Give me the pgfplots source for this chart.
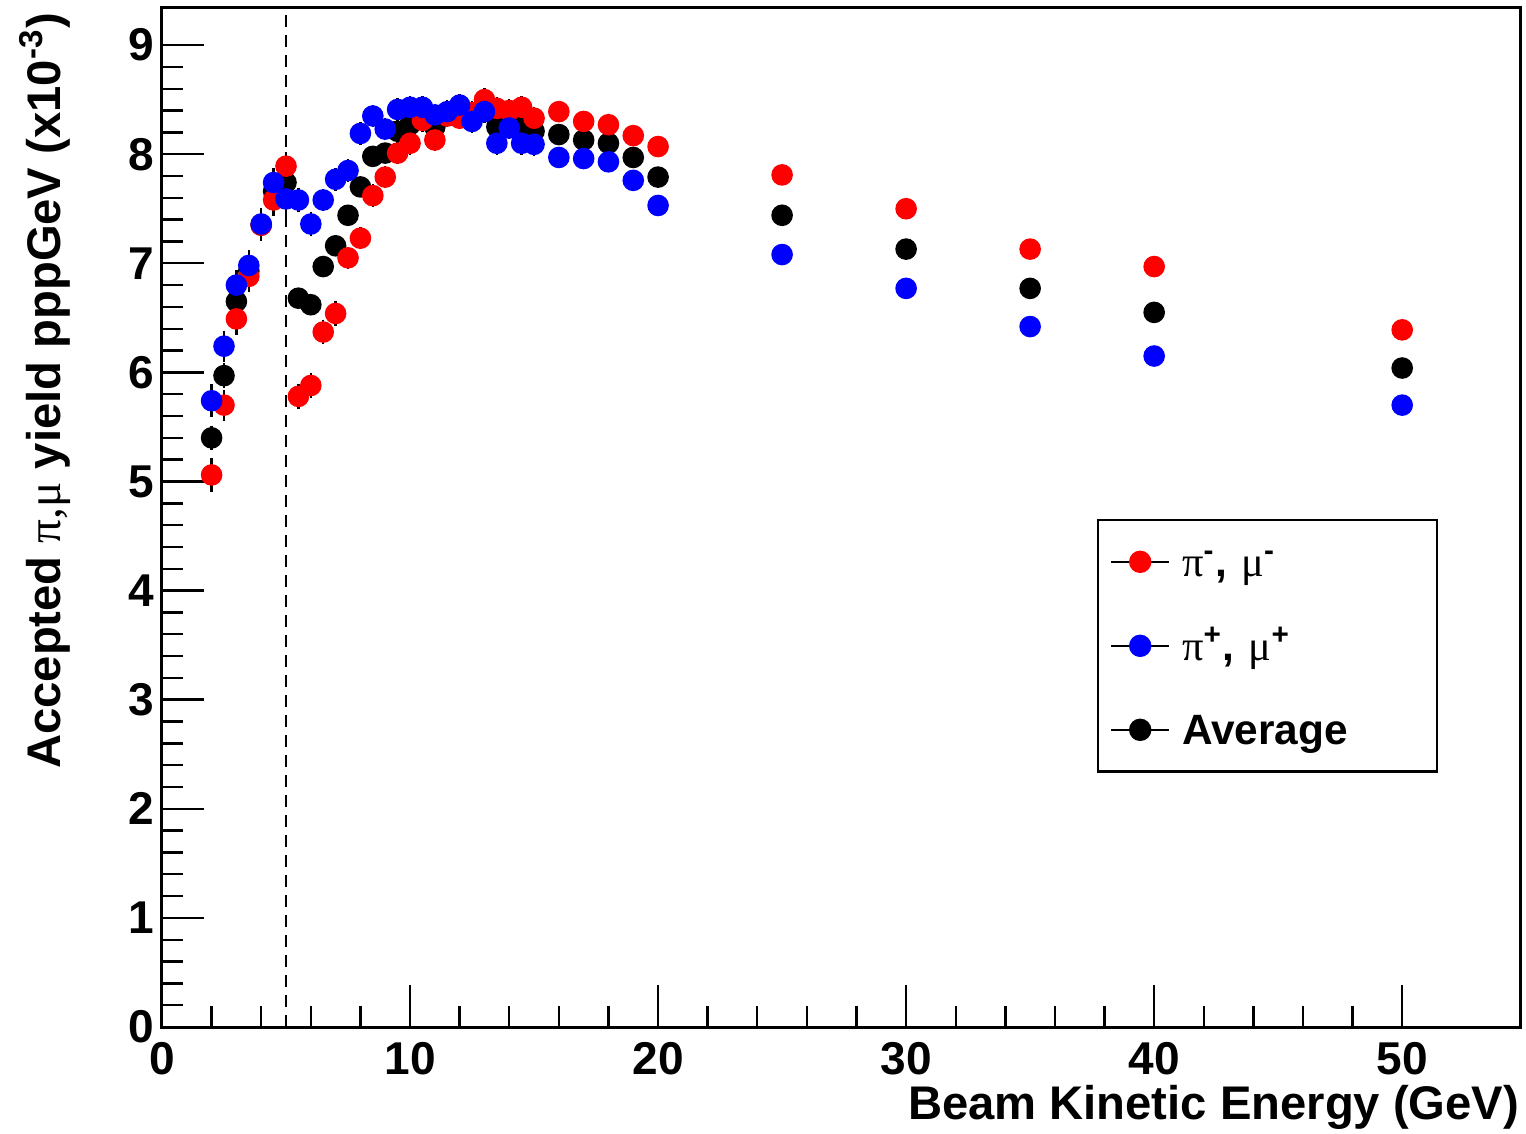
\documentclass[border=0pt]{standalone}
\usepackage{fontspec}
\setmainfont{Liberation Sans}
\newfontfamily\symb{Liberation Serif}
\usepackage{pgfplots}
\pgfplotsset{compat=1.18}

\newcommand{\tickfont}{\fontsize{11.5}{13}\selectfont\bfseries}
\newcommand{\titlefont}{\fontsize{11.8}{13}\selectfont\bfseries}
\newcommand{\legfont}{\fontsize{10.6}{12}\selectfont\bfseries}

\begin{document}
\begin{tikzpicture}
\begin{axis}[
  name=ax,
  scale only axis,
  width=339.5pt, height=254.75pt,
  xmin=0, xmax=54.75, ymin=0, ymax=9.34,
  xtick={0,10,...,50}, ytick={0,1,...,9},
  minor x tick num=4, minor y tick num=4,
  tick pos=left, tick align=inside,
  major tick length=10.5pt, minor tick length=5.25pt,
  every tick/.style={black, line width=0.6pt},
  axis line style={black, line width=0.75pt},
  /pgf/number format/assume math mode=true,
  tick label style={font=\tickfont},
  xticklabel style={anchor=north, inner sep=0pt, yshift=-3.75pt},
  yticklabel style={anchor=east, inner sep=0pt, xshift=-1.75pt},
  xlabel={Beam Kinetic Energy (GeV)},
  xlabel style={font=\titlefont, at={(axis description cs:1,-0.056)}, anchor=north east, inner sep=0pt},
  ylabel={Accepted {\mdseries\symb π,μ} yield pppGeV (x10\textsuperscript{-3})},
  ylabel style={font=\titlefont, at={(axis description cs:-0.0862,0.996)}, anchor=east, inner sep=0pt},
  legend cell align=left,
  legend style={at={(rel axis cs:0.6885,0.4985)}, anchor=north west,
    draw=black, line width=0.6pt, fill=white,
    inner xsep=0pt, inner ysep=5pt, row sep=10.2pt, column sep=0pt,
    font=\legfont,
    nodes={inner sep=0pt, text height=9pt, text depth=1.8pt, text width=63.75pt, align=left}},
  legend image code/.code={
    \path[draw=none, fill=none] (0pt,-5.4pt) rectangle (21pt,5.4pt);
    \draw[black, line width=0.5pt] (3.25pt,0pt) -- (17.75pt,0pt);
    \draw[#1] plot coordinates {(10.5pt,0pt)};
  },
  every axis plot/.append style={only marks, mark=*, mark size=2.5pt},
  err/.style={error bars/.cd, y dir=both, y explicit,
    error bar style={black, line width=0.6pt},
    error mark options={black, mark size=0.9pt, line width=0.6pt}},
]

% dashed line at 5 GeV
\addplot[black, dashed, dash pattern=on 3pt off 2pt, line width=0.6pt, mark=none, sharp plot, forget plot]
  coordinates {(5,0) (5,9.34)};

% average
\addplot[black, forget plot, err] coordinates {
(2,5.40) +- (0,0.08) (2.5,5.97) +- (0,0.08) (3,6.65) +- (0,0.08) (3.5,6.93) +- (0,0.08)
(4,7.35) +- (0,0.08) (4.5,7.66) +- (0,0.08) (5,7.74) +- (0,0.08) (5.5,6.68) +- (0,0.06)
(6,6.62) +- (0,0.06) (6.5,6.97) +- (0,0.06) (7,7.16) +- (0,0.06) (7.5,7.44) +- (0,0.05)
(8,7.70) +- (0,0.05) (8.5,7.98) +- (0,0.05) (9,8.01) +- (0,0.05) (9.5,8.21) +- (0,0.05)
(10,8.27) +- (0,0.05) (10.5,8.37) +- (0,0.05) (11,8.25) +- (0,0.05) (11.5,8.37) +- (0,0.05)
(12,8.39) +- (0,0.05) (12.5,8.34) +- (0,0.05) (13,8.43) +- (0,0.05) (13.5,8.25) +- (0,0.05)
(14,8.32) +- (0,0.05) (14.5,8.27) +- (0,0.05) (15,8.21) +- (0,0.05) (16,8.18) +- (0,0.04)
(17,8.13) +- (0,0.04) (18,8.10) +- (0,0.04) (19,7.97) +- (0,0.04) (20,7.79) +- (0,0.04)
(25,7.44) +- (0,0.04) (30,7.13) +- (0,0.04) (35,6.77) +- (0,0.04) (40,6.55) +- (0,0.04)
(50,6.04) +- (0,0.04)
};

% pi-, mu-
\addplot[red, err] coordinates {
(2,5.06) +- (0,0.12) (2.5,5.70) +- (0,0.11) (3,6.49) +- (0,0.11) (3.5,6.88) +- (0,0.11)
(4,7.35) +- (0,0.11) (4.5,7.58) +- (0,0.11) (5,7.89) +- (0,0.10) (5.5,5.78) +- (0,0.08)
(6,5.88) +- (0,0.08) (6.5,6.37) +- (0,0.08) (7,6.54) +- (0,0.08) (7.5,7.05) +- (0,0.07)
(8,7.23) +- (0,0.07) (8.5,7.62) +- (0,0.07) (9,7.79) +- (0,0.07) (9.5,8.01) +- (0,0.07)
(10,8.10) +- (0,0.07) (10.5,8.31) +- (0,0.07) (11,8.13) +- (0,0.07) (11.5,8.35) +- (0,0.07)
(12,8.33) +- (0,0.07) (12.5,8.38) +- (0,0.07) (13,8.50) +- (0,0.07) (13.5,8.42) +- (0,0.07)
(14,8.40) +- (0,0.07) (14.5,8.43) +- (0,0.07) (15,8.33) +- (0,0.07) (16,8.39) +- (0,0.06)
(17,8.30) +- (0,0.06) (18,8.27) +- (0,0.06) (19,8.17) +- (0,0.06) (20,8.07) +- (0,0.06)
(25,7.81) +- (0,0.05) (30,7.50) +- (0,0.05) (35,7.13) +- (0,0.05) (40,6.97) +- (0,0.05)
(50,6.39) +- (0,0.05)
};
\addlegendentry{{\mdseries\symb π}\textsuperscript{-}, {\mdseries\symb μ}\textsuperscript{-}}

% pi+, mu+
\addplot[blue, err] coordinates {
(2,5.74) +- (0,0.12) (2.5,6.24) +- (0,0.11) (3,6.80) +- (0,0.11) (3.5,6.98) +- (0,0.11)
(4,7.36) +- (0,0.11) (4.5,7.74) +- (0,0.10) (5,7.59) +- (0,0.11) (5.5,7.58) +- (0,0.08)
(6,7.36) +- (0,0.08) (6.5,7.58) +- (0,0.07) (7,7.77) +- (0,0.07) (7.5,7.85) +- (0,0.07)
(8,8.19) +- (0,0.07) (8.5,8.35) +- (0,0.07) (9,8.23) +- (0,0.07) (9.5,8.41) +- (0,0.07)
(10,8.43) +- (0,0.07) (10.5,8.43) +- (0,0.07) (11,8.36) +- (0,0.07) (11.5,8.39) +- (0,0.07)
(12,8.45) +- (0,0.07) (12.5,8.30) +- (0,0.07) (13,8.39) +- (0,0.07) (13.5,8.10) +- (0,0.07)
(14,8.24) +- (0,0.07) (14.5,8.10) +- (0,0.07) (15,8.09) +- (0,0.07) (16,7.97) +- (0,0.06)
(17,7.96) +- (0,0.06) (18,7.93) +- (0,0.06) (19,7.76) +- (0,0.06) (20,7.53) +- (0,0.06)
(25,7.08) +- (0,0.05) (30,6.77) +- (0,0.05) (35,6.42) +- (0,0.05) (40,6.15) +- (0,0.05)
(50,5.70) +- (0,0.05)
};
\addlegendentry{{\mdseries\symb π}\textsuperscript{+}, {\mdseries\symb μ}\textsuperscript{+}}

\addlegendimage{black, only marks, mark=*, mark size=2.5pt}
\addlegendentry{Average}
\end{axis}
\pgfresetboundingbox
\useasboundingbox ([shift={(-40.5pt,-26.5pt)}]ax.south west) rectangle ++(381.5pt,283.25pt);
\end{tikzpicture}
\end{document}
